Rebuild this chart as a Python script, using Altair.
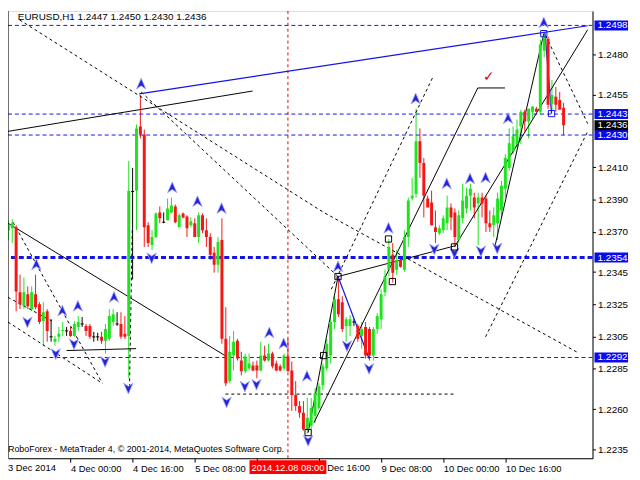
import altair as alt
import pandas as pd

# ---------------- candle data (EURUSD H1, bar 0 = 3 Dec 2014 08:00) ----------------
OPEN = [1.23710, 1.23722, 1.23728, 1.23324, 1.23238, 1.23312, 1.23220, 1.23312, 1.23250, 1.23146,
        1.23207, 1.23048, 1.23018, 1.23048, 1.23085, 1.23085, 1.23085, 1.23054, 1.23109, 1.23128,
        1.23116, 1.23116, 1.23048, 1.23048, 1.23048, 1.23024, 1.23036, 1.23140, 1.23128, 1.23128,
        1.23067, 1.23054, 1.23950, 1.23955, 1.24353, 1.24304, 1.23740, 1.23618, 1.23667, 1.23820,
        1.23759, 1.23771, 1.23820, 1.23857, 1.23728, 1.23814, 1.23795, 1.23740, 1.23753, 1.23667,
        1.23802, 1.23710, 1.23667, 1.23569, 1.23495, 1.23649, 1.23036, 1.22773, 1.22932, 1.23024,
        1.22901, 1.22834, 1.22852, 1.22871, 1.22871, 1.22840, 1.22932, 1.22901, 1.22944, 1.22883,
        1.22865, 1.22852, 1.22926, 1.22840, 1.22687, 1.22619, 1.22577, 1.22473, 1.22497, 1.22558,
        1.22607, 1.22748, 1.22852, 1.22932, 1.23140, 1.23281, 1.23263, 1.23116, 1.23116, 1.23140,
        1.23116, 1.23054, 1.23109, 1.23097, 1.22932, 1.23097, 1.23158, 1.23324, 1.23465, 1.23557,
        1.23465, 1.23526, 1.23465, 1.23667, 1.23906, 1.23936, 1.24261, 1.24126, 1.23906, 1.23881,
        1.23728, 1.23691, 1.23710, 1.23753, 1.23851, 1.23820, 1.23649, 1.23783, 1.23844, 1.23924,
        1.23912, 1.23875, 1.23912, 1.23906, 1.23753, 1.23740, 1.23753, 1.23832, 1.23967, 1.24096,
        1.24200, 1.24243, 1.24353, 1.24445, 1.24384, 1.24445, 1.24463, 1.24445, 1.24825, 1.24898,
        1.24494, 1.24537, 1.24518, 1.24470]
HIGH = [1.23771, 1.23777, 1.23740, 1.23434, 1.23416, 1.23361, 1.23361, 1.23434, 1.23263, 1.23263,
        1.23220, 1.23158, 1.23054, 1.23109, 1.23140, 1.23109, 1.23109, 1.23146, 1.23177, 1.23171,
        1.23128, 1.23128, 1.23079, 1.23073, 1.23079, 1.23128, 1.23220, 1.23220, 1.23201, 1.23201,
        1.23177, 1.24139, 1.24096, 1.24365, 1.24549, 1.24334, 1.23759, 1.23710, 1.23820, 1.23857,
        1.23820, 1.23906, 1.23912, 1.23869, 1.23814, 1.23820, 1.23802, 1.23789, 1.23783, 1.23820,
        1.23814, 1.23783, 1.23691, 1.23606, 1.23667, 1.23783, 1.23232, 1.23054, 1.23085, 1.23036,
        1.22956, 1.22944, 1.22944, 1.22895, 1.22901, 1.23018, 1.22993, 1.23005, 1.22956, 1.22901,
        1.22877, 1.22944, 1.23036, 1.22895, 1.22773, 1.22650, 1.22650, 1.22669, 1.22669, 1.22730,
        1.22760, 1.22883, 1.23036, 1.23171, 1.23300, 1.23422, 1.23300, 1.23171, 1.23183, 1.23158,
        1.23128, 1.23140, 1.23140, 1.23109, 1.23109, 1.23195, 1.23342, 1.23465, 1.23655, 1.23630,
        1.23587, 1.23544, 1.23710, 1.23912, 1.24034, 1.24463, 1.24341, 1.24157, 1.23924, 1.23955,
        1.23832, 1.23740, 1.23802, 1.23924, 1.23875, 1.23844, 1.23832, 1.23998, 1.23973, 1.23998,
        1.23942, 1.23942, 1.23942, 1.23924, 1.23832, 1.23851, 1.23942, 1.24016, 1.24181, 1.24341,
        1.24353, 1.24396, 1.24457, 1.24457, 1.24463, 1.24481, 1.24475, 1.24892, 1.24935, 1.24910,
        1.24641, 1.24598, 1.24567, 1.24500]
LOW = [1.23649, 1.23630, 1.23207, 1.23220, 1.23220, 1.23220, 1.23207, 1.23220, 1.23128, 1.22993,
       1.23018, 1.23018, 1.22993, 1.23018, 1.23054, 1.23054, 1.23048, 1.23048, 1.23085, 1.23109,
       1.23054, 1.23036, 1.23018, 1.23024, 1.23005, 1.22944, 1.23024, 1.23116, 1.23116, 1.23036,
       1.23036, 1.22791, 1.23404, 1.23710, 1.24279, 1.23606, 1.23606, 1.23587, 1.23661, 1.23753,
       1.23753, 1.23771, 1.23814, 1.23753, 1.23728, 1.23783, 1.23667, 1.23728, 1.23667, 1.23630,
       1.23691, 1.23606, 1.23526, 1.23446, 1.23446, 1.23005, 1.22742, 1.22760, 1.22840, 1.22901,
       1.22809, 1.22822, 1.22840, 1.22834, 1.22791, 1.22834, 1.22895, 1.22895, 1.22852, 1.22834,
       1.22834, 1.22840, 1.22834, 1.22589, 1.22589, 1.22546, 1.22466, 1.22448, 1.22473, 1.22515,
       1.22595, 1.22718, 1.22834, 1.22883, 1.23097, 1.23171, 1.23079, 1.23018, 1.23054, 1.23116,
       1.23018, 1.22975, 1.22913, 1.22901, 1.22901, 1.23067, 1.23097, 1.23300, 1.23422, 1.23385,
       1.23434, 1.23477, 1.23452, 1.23606, 1.23894, 1.23912, 1.24034, 1.23789, 1.23851, 1.23740,
       1.23630, 1.23679, 1.23691, 1.23710, 1.23710, 1.23606, 1.23630, 1.23753, 1.23814, 1.23832,
       1.23783, 1.23618, 1.23789, 1.23698, 1.23698, 1.23667, 1.23649, 1.23789, 1.23912, 1.24077,
       1.24181, 1.24218, 1.24243, 1.24322, 1.24279, 1.24402, 1.24445, 1.24426, 1.24782, 1.24463,
       1.24445, 1.24445, 1.24457, 1.24300]
CLOSE = [1.23740, 1.23753, 1.23330, 1.23250, 1.23324, 1.23238, 1.23324, 1.23232, 1.23140, 1.23201,
         1.23085, 1.23048, 1.23036, 1.23067, 1.23091, 1.23085, 1.23054, 1.23128, 1.23140, 1.23128,
         1.23085, 1.23048, 1.23048, 1.23048, 1.23024, 1.23097, 1.23177, 1.23189, 1.23128, 1.23048,
         1.23048, 1.23955, 1.23950, 1.24341, 1.24304, 1.23728, 1.23630, 1.23667, 1.23814, 1.23783,
         1.23759, 1.23844, 1.23863, 1.23759, 1.23802, 1.23789, 1.23722, 1.23765, 1.23667, 1.23802,
         1.23710, 1.23667, 1.23557, 1.23495, 1.23636, 1.23036, 1.22760, 1.22956, 1.23018, 1.22913,
         1.22834, 1.22926, 1.22883, 1.22840, 1.22840, 1.22932, 1.22901, 1.22944, 1.22865, 1.22840,
         1.22840, 1.22932, 1.22834, 1.22687, 1.22619, 1.22577, 1.22473, 1.22546, 1.22607, 1.22699,
         1.22742, 1.22865, 1.23005, 1.23140, 1.23281, 1.23189, 1.23097, 1.23158, 1.23158, 1.23140,
         1.23036, 1.23097, 1.22932, 1.22932, 1.23097, 1.23177, 1.23312, 1.23422, 1.23606, 1.23446,
         1.23526, 1.23483, 1.23667, 1.23894, 1.23924, 1.24261, 1.24126, 1.23924, 1.23851, 1.23740,
         1.23698, 1.23722, 1.23783, 1.23851, 1.23789, 1.23667, 1.23802, 1.23894, 1.23924, 1.23967,
         1.23851, 1.23912, 1.23875, 1.23753, 1.23728, 1.23802, 1.23906, 1.23985, 1.24157, 1.24249,
         1.24292, 1.24334, 1.24445, 1.24384, 1.24463, 1.24475, 1.24445, 1.24861, 1.24916, 1.24488,
         1.24549, 1.24488, 1.24457, 1.24360]

# ---------------- axes ----------------
X_TICKS = [0, 16, 32, 48, 64, 80, 96, 112, 128]
X_LABELS = ["3 Dec 2014", "4 Dec 00:00", "4 Dec 16:00", "5 Dec 08:00", "",
            "", "9 Dec 08:00", "10 Dec 00:00", "10 Dec 16:00"]
PARTIAL_LABEL = "Dec 16:00"          # "8 Dec 16:00", its first characters hidden by the cursor label
Y_TICKS = [1.2480, 1.2455, 1.2410, 1.2390, 1.2370, 1.2345, 1.2325,
           1.2305, 1.2285, 1.2260, 1.2235]
X_DOMAIN = [1.175, 149.175]
Y_DOMAIN = [1.2229495, 1.2506949]

# ---------------- levels / annotations ----------------
BLUE_LEVELS = [1.2498, 1.2443, 1.2430, 1.2292]
THICK_LEVELS = [1.2354]
BOX_LEVELS = [1.2498, 1.2443, 1.2430, 1.2354, 1.2292]
CURRENT_PRICE = 1.2436
CROSS_BAR = 72
CROSS_LABEL = "2014.12.08 08:00"
TITLE = "EURUSD,H1  1.2447 1.2450 1.2430 1.2436"
COPYRIGHT = "RoboForex - MetaTrader 4, \u00a9 2001-2014, MetaQuotes Software Corp."

SOLID_LINES = {
    "s1": [(-0.3, 1.24322), (62.9, 1.24573)],
    "s2": [(-0.1, 1.23753), (56.2, 1.22926)],
    "s3": [(77.2, 1.22454), (84.9, 1.23422)],
    "s4": [(84.9, 1.23422), (114.9, 1.23612)],
    "s5": [(114.9, 1.23606), (149.2, 1.24953)],
    "s6": [(125.4, 1.23618), (137.9, 1.24929)],
    "s7": [(78.7, 1.22515), (120.9, 1.24592), (127.9, 1.24592)],
    "s8": [(15.0, 1.22963), (32.9, 1.22975)],
}
DASHED_LINES = {
    "d1": [(2.9, 1.25014), (81.2, 1.23820), (146.7, 1.22950)],
    "d2": [(34.2, 1.24567), (84.9, 1.23422)],
    "d4": [(138.4, 1.24916), (149.2, 1.24371)],
    "d5": [(122.9, 1.23048), (149.2, 1.24322)],
    "d6": [(109.2, 1.24653), (82.9, 1.23330)],
    "d7": [(55.9, 1.22693), (115.4, 1.22693)],
    "d8": [(31.9, 1.23710), (31.2, 1.22742)],
    "dl1": [(1.2, 1.23759), (24.2, 1.22760)],
    "dl2": [(-0.1, 1.23293), (11.2, 1.23146)],
    "dl3": [(-0.1, 1.23140), (24.2, 1.22760)],
}
BLUE_LINES = {
    "b1": [(33.7, 1.24555), (149.2, 1.24978)],
    "b2": [(84.9, 1.23422), (92.9, 1.22914)],
    "b3": [(138.2, 1.24935), (139.9, 1.24433)],
}
UP_ARROWS = [(34.2, 1.24616), (7.2, 1.23495), (13.9, 1.23208), (17.9, 1.23238), (27.2, 1.23293),
             (42.2, 1.23973), (48.7, 1.23887), (54.9, 1.23844), (67.2, 1.23073), (70.9, 1.23005),
             (76.9, 1.22803), (84.9, 1.23483), (97.9, 1.23722), (104.9, 1.24524), (112.9, 1.23998),
             (118.9, 1.24028), (122.9, 1.24034), (128.7, 1.24402), (137.9, 1.24996)]
DOWN_ARROWS = [(4.9, 1.23140), (12.2, 1.22944), (16.9, 1.23005), (24.9, 1.22895), (30.9, 1.22730),
               (36.9, 1.23538), (56.2, 1.22644), (60.9, 1.22742), (63.9, 1.22754), (77.2, 1.22405),
               (87.2, 1.22993), (92.9, 1.22852), (109.7, 1.23593), (114.9, 1.23569), (121.7, 1.23581),
               (125.9, 1.23599)]
BLACK_SQUARES = [(84.9, 1.23422), (81.2, 1.22932), (77.2, 1.22454), (97.9, 1.23655),
                 (98.9, 1.23391), (114.9, 1.23606)]
BLUE_SQUARES = [(137.9, 1.24929), (139.9, 1.24433)]
CHECK_MARK = (123.7, 1.24616)

W, H = 592, 453
FONT = "Liberation Sans"
GREEN, RED, BLUE = "#1ee31e", "#f51616", "#1414e6"

xs = alt.Scale(domain=X_DOMAIN, nice=False, zero=False)
ys = alt.Scale(domain=Y_DOMAIN, nice=False, zero=False)

label_expr = "[" + ",".join(f"'{s}'" for s in X_LABELS) + "][round(datum.value/16)]"
x_axis = alt.Axis(orient="bottom", values=X_TICKS[1:], labelExpr=label_expr, labelAlign="left",
                  labelBaseline="top", tickSize=4, labelPadding=1, labelFont=FONT, labelFontSize=9.5,
                  labelColor="black", domainColor="black", tickColor="black", labelFlush=False,
                  labelOverlap=False, grid=False, title=None)
y_axis = alt.Axis(orient="right", values=Y_TICKS, format=".4f", tickSize=3, labelPadding=2,
                  labelFont=FONT, labelFontSize=10, labelColor="black", domainColor="black",
                  tickColor="black", grid=False, title=None, labelOverlap=False, labelFlush=False)


def X(field="bar"):
    return alt.X(f"{field}:Q", scale=xs, axis=x_axis)


def Y(field="price"):
    return alt.Y(f"{field}:Q", scale=ys, axis=y_axis)


def pts_df(pts):
    return pd.DataFrame(pts, columns=["bar", "price"])


def lines_df(lines):
    rows = []
    for name, pts in lines.items():
        for i, (b, p) in enumerate(pts):
            rows.append({"id": name, "ord": i, "bar": b, "price": p})
    return pd.DataFrame(rows)


candles = pd.DataFrame({"bar": list(range(len(OPEN))), "o": OPEN, "h": HIGH, "l": LOW, "c": CLOSE})
candles["dir"] = ["doji" if abs(o - c) < 0.00002 else ("up" if c > o else "down")
                  for o, c in zip(candles.o, candles.c)]
color = alt.Color("dir:N", scale=alt.Scale(domain=["up", "down", "doji"], range=[GREEN, RED, "#000000"]),
                  legend=None)

base = alt.Chart(candles)
wicks = base.mark_rule(strokeWidth=1, clip=True).encode(x=X(), y=Y("l"), y2="h:Q", color=color)
bodies = base.transform_filter("datum.dir != 'doji'").mark_bar(size=3, clip=True).encode(
    x=X(), y=Y("o"), y2="c:Q", color=color)
dojis = base.transform_filter("datum.dir == 'doji'").transform_calculate(
    b1="datum.bar - 0.4", b2="datum.bar + 0.4").mark_rule(color="black", clip=True).encode(
    x=X("b1"), x2="b2:Q", y=Y("o"))

left_border = alt.Chart(pd.DataFrame({"a": [0]})).mark_rule(color="black").encode(
    x=alt.value(0), y=alt.value(0), y2=alt.value(H))

blue_lv = alt.Chart(pd.DataFrame({"price": BLUE_LEVELS})).mark_rule(
    color=BLUE, strokeDash=[4, 3], strokeWidth=1).encode(y=Y())
thick_lv = alt.Chart(pd.DataFrame({"price": THICK_LEVELS})).mark_rule(
    color=BLUE, strokeDash=[5, 3], strokeWidth=3).encode(y=Y())
cross = alt.Chart(pd.DataFrame({"bar": [CROSS_BAR]})).mark_rule(
    color="#e00000", strokeDash=[3, 3], strokeWidth=1).encode(x=X())

solid = alt.Chart(lines_df(SOLID_LINES)).mark_line(color="black", strokeWidth=1, clip=True).encode(
    x=X(), y=Y(), detail="id:N", order="ord:Q")
dashed = alt.Chart(lines_df(DASHED_LINES)).mark_line(color="black", strokeWidth=1, strokeDash=[3, 3],
                                                    clip=True).encode(
    x=X(), y=Y(), detail="id:N", order="ord:Q")
blue_ln = alt.Chart(lines_df(BLUE_LINES)).mark_line(color=BLUE, strokeWidth=1.2, clip=True).encode(
    x=X(), y=Y(), detail="id:N", order="ord:Q")

UP_SHAPE = "M0,-1L0.8,0.85L0,0.3L-0.8,0.85Z"
DOWN_SHAPE = "M0,1L0.8,-0.85L0,-0.3L-0.8,-0.85Z"
up_ar = alt.Chart(pts_df(UP_ARROWS)).mark_point(shape=UP_SHAPE, filled=True, size=140, fill="#2424d8",
                                                stroke="#a8a8ff", strokeWidth=0.8, opacity=1,
                                                clip=True).encode(x=X(), y=Y())
dn_ar = alt.Chart(pts_df(DOWN_ARROWS)).mark_point(shape=DOWN_SHAPE, filled=True, size=140,
                                                  fill="#2424d8", stroke="#a8a8ff", strokeWidth=0.8,
                                                  opacity=1, clip=True).encode(x=X(), y=Y())
sq_black = alt.Chart(pts_df(BLACK_SQUARES)).mark_point(shape="square", filled=False, size=40,
                                                       color="black", strokeWidth=1, opacity=1).encode(
    x=X(), y=Y())
sq_blue = alt.Chart(pts_df(BLUE_SQUARES)).mark_point(shape="square", filled=False, size=40,
                                                     color=BLUE, strokeWidth=1, opacity=1).encode(
    x=X(), y=Y())
check = alt.Chart(pts_df([CHECK_MARK])).mark_text(text="\u2713", color="#e00000", fontSize=14,
                                                  font="DejaVu Sans", baseline="bottom").encode(
    x=X(), y=Y())

# price boxes on the right axis
blue_box_df = pd.DataFrame({"price": BOX_LEVELS})
blue_box_df["txt"] = blue_box_df["price"].map(lambda v: f"{v:.4f}")
cur_box_df = pd.DataFrame({"price": [CURRENT_PRICE]})
cur_box_df["txt"] = cur_box_df["price"].map(lambda v: f"{v:.4f}")


def price_box(df, fill):
    b = alt.Chart(df).transform_calculate(top="datum.price + 0.00031", bot="datum.price - 0.00031")
    r = b.mark_rect(clip=False, fill=fill).encode(
        x=alt.value(W + 2), x2=alt.value(W + 36), y=Y("top"), y2="bot:Q")
    t = b.mark_text(align="left", baseline="middle", color="white", font=FONT, fontSize=10,
                    clip=False).encode(x=alt.value(W + 5), y=Y(), text="txt:N")
    return r, t


bb_r, bb_t = price_box(blue_box_df, "#0a0af0")
cb_r, cb_t = price_box(cur_box_df, "#000000")

# bottom labels
first_lbl = alt.Chart(pd.DataFrame({"t": [X_LABELS[0]]})).mark_text(
    align="left", baseline="top", font=FONT, fontSize=9.5, color="black").encode(
    x=alt.value(0), y=alt.value(H + 5), text="t:N")
cross_box = alt.Chart(pd.DataFrame({"bar": [CROSS_BAR - 9.9], "bar2": [CROSS_BAR + 9.9]})).mark_rect(
    fill="#ff0000", clip=False).encode(x=X(), x2="bar2:Q", y=alt.value(H + 2), y2=alt.value(H + 16))
cross_txt = alt.Chart(pd.DataFrame({"bar": [CROSS_BAR], "t": [CROSS_LABEL]})).mark_text(
    align="center", baseline="middle", font=FONT, fontSize=9.5, color="white").encode(
    x=X(), y=alt.value(H + 9.5), text="t:N")
partial_lbl = alt.Chart(pd.DataFrame({"bar": [CROSS_BAR + 9.9], "t": [PARTIAL_LABEL]})).mark_text(
    align="left", baseline="top", font=FONT, fontSize=9.5, color="black", dx=1).encode(
    x=X(), y=alt.value(H + 5), text="t:N")

title = alt.Chart(pd.DataFrame({"t": [TITLE]})).mark_text(
    align="left", baseline="top", font=FONT, fontSize=10, color="black").encode(
    x=alt.value(10), y=alt.value(1), text="t:N")
copyright_t = alt.Chart(pd.DataFrame({"t": [COPYRIGHT]})).mark_text(
    align="left", baseline="middle", font=FONT, fontSize=9, color="black").encode(
    x=alt.value(0), y=alt.value(H - 9), text="t:N")

chart = alt.layer(
    wicks, blue_lv, thick_lv, cross, dashed, solid, blue_ln, bodies, dojis, up_ar, dn_ar,
    sq_black, sq_blue, check, bb_r, bb_t, cb_r, cb_t, first_lbl, cross_box, cross_txt, partial_lbl,
    title, copyright_t, left_border,
).properties(
    width=W, height=H,
    autosize=alt.AutoSizeParams(type="none"),
    padding={"left": 0, "top": 0, "right": 40, "bottom": 19},
).configure_view(strokeWidth=0).configure(background="white")

chart.save("out.html", embed_options={"renderer": "svg", "actions": False})
